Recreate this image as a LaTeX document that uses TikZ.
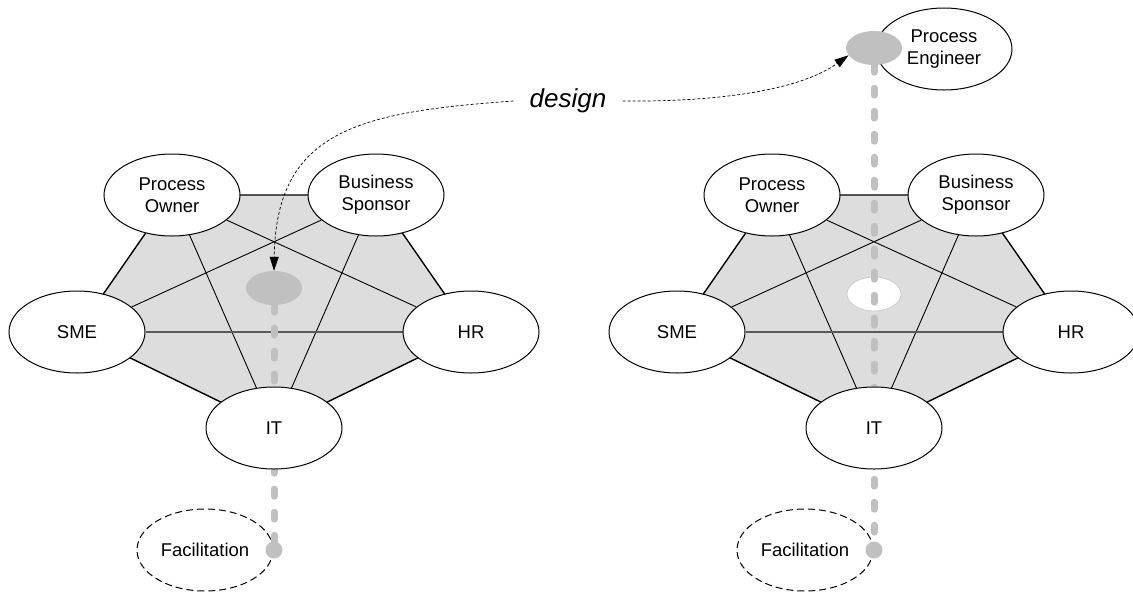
\documentclass[tikz,border=0pt]{standalone}
\usepackage{fontspec}
\setmainfont{Liberation Sans}
\usetikzlibrary{arrows.meta,backgrounds,shapes.geometric}

\definecolor{pentfill}{HTML}{DDDDDD}
\definecolor{trackgray}{HTML}{C0C0C0}

\tikzset{
	role/.style = {draw, ellipse, fill=white, line width=1pt, minimum width=136pt,
		minimum height=82pt, inner sep=0pt, align=center,
		font=\fontsize{18.5}{22}\selectfont},
	guest/.style = {role, dashed, dash pattern=on 7pt off 4pt, fill=none},
	pent/.style = {fill=pentfill, draw=black, line width=1.4pt, line join=round},
	diag/.style = {draw=black, line width=0.9pt},
	midline/.style = {draw=black!65, line width=1.6pt},
	spot/.style = {ellipse, fill=trackgray, minimum width=56pt, minimum height=34pt, inner sep=0pt},
	hole/.style = {ellipse, fill=white, draw=black!20, line width=0.8pt, minimum width=54pt, minimum height=34pt, inner sep=0pt},
	dot/.style = {circle, fill=trackgray, minimum size=17pt, inner sep=0pt},
	track/.style = {draw=trackgray, line width=7pt, line cap=round, dash pattern=on 7pt off 16pt},
	designline/.style = {draw=black, line width=0.7pt, dash pattern=on 3pt off 2pt,
		-{Triangle[length=14pt,width=9pt]}}
}

\begin{document}
\begin{tikzpicture}[x=1pt, y=-1pt]
	\useasboundingbox (0,0) rectangle (1133,595);

	% left: before
	\node[role] (po1) at (172,195) {Process\\Owner};
	\node[role] (bs1) at (376,195) {Business\\Sponsor};
	\node[role] (sme1) at (77,332) {SME};
	\node[role] (hr1) at (471,332) {HR};
	\node[role] (it1) at (274,428) {IT};
	\node[guest] (fac1) at (205,550) {Facilitation};
	\node[spot] (spot1) at (274,288) {};
	\node[dot] (dot1) at (274,550) {};

	% right: after
	\node[role] (po2) at (772,195) {Process\\Owner};
	\node[role] (bs2) at (976,195) {Business\\Sponsor};
	\node[role] (sme2) at (677,332) {SME};
	\node[role] (hr2) at (1071,332) {HR};
	\node[role] (it2) at (874,428) {IT};
	\node[guest] (fac2) at (805,550) {Facilitation};
	\node[role] (pe) at (944,49) {Process\\Engineer};
	\node[spot] (spot2) at (874,48) {};
	\node[dot] (dot2) at (874,550) {};

	\begin{scope}[on background layer]
		\filldraw[pent] (po1.center) -- (bs1.center) -- (hr1.center) -- (it1.center) -- (sme1.center) -- cycle;
		\draw[diag] (po1) -- (hr1);
		\draw[diag] (po1) -- (it1);
		\draw[diag] (bs1) -- (sme1);
		\draw[diag] (bs1) -- (it1);
		\draw[midline] (sme1) -- (hr1);
		\draw[track] (spot1.south) -- (dot1);

		\filldraw[pent] (po2.center) -- (bs2.center) -- (hr2.center) -- (it2.center) -- (sme2.center) -- cycle;
		\draw[diag] (po2) -- (hr2);
		\draw[diag] (po2) -- (it2);
		\draw[diag] (bs2) -- (sme2);
		\draw[diag] (bs2) -- (it2);
		\draw[midline] (sme2) -- (hr2);
		\node[hole] (hole2) at (874,294) {};
		\draw[track] (spot2.south) -- (dot2);
	\end{scope}

	% design arrow
	\node[font=\fontsize{26}{30}\selectfont\itshape, inner xsep=16pt, inner ysep=0pt] (design) at (568,101) {design};
	\draw[designline] (design.west) .. controls (360,112) and (276,130) .. (spot1.north);
	\draw[designline] (design.east) .. controls (720,102) and (800,90) .. (spot2.196);

\end{tikzpicture}
\end{document}
